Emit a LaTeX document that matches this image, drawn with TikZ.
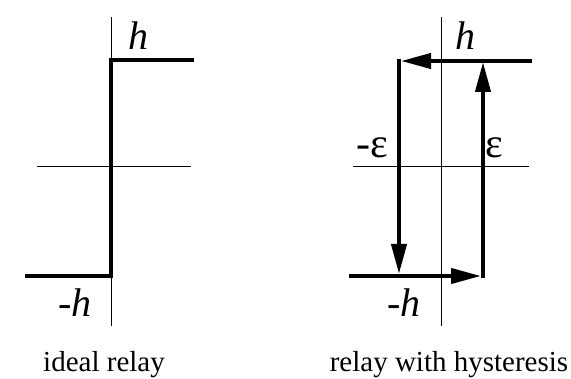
\documentclass[tikz,border=0pt]{standalone}
\usepackage{fontspec}
\setmainfont{Liberation Serif}
\usetikzlibrary{arrows.meta}

\begin{document}
\begin{tikzpicture}[x=1pt,y=-1pt,
  axis/.style={line width=1pt},
  relay/.style={line width=4pt},
  tip/.style={-{Triangle[length=30pt,width=15pt]}},
  lab/.style={anchor=base,inner sep=0pt,font=\fontsize{40}{44}\selectfont},
  eps/.style={anchor=base,inner sep=0pt,font=\fontsize{42}{46}\selectfont},
  caption/.style={anchor=base,inner sep=0pt,font=\fontsize{29}{34}\selectfont}]
\useasboundingbox (0,0) rectangle (571,379);
% ideal relay
\coordinate (v1) at (111,17); \coordinate (v2) at (111,326);
\coordinate (u1) at (37,167); \coordinate (u2) at (191,167);
\draw[axis] (v1) -- (v2);
\draw[axis] (u1) -- (u2);
\coordinate (lo) at (25,276); \coordinate (sw) at (111,276);
\coordinate (nw) at (111,60); \coordinate (hi) at (194,60);
\draw[relay] (lo) -- (sw) -- (nw) -- (hi);
\node[lab] (h1) at (138,50) {\itshape h};
\node[lab] (mh1) at (75,317) {-\textit{h}};
\node[caption] (cap1) at (104,372) {ideal relay};
% relay with hysteresis
\coordinate (v3) at (441,17); \coordinate (v4) at (441,326);
\coordinate (u3) at (353,167); \coordinate (u4) at (529,167);
\draw[axis] (v3) -- (v4);
\draw[axis] (u3) -- (u4);
\coordinate (ne) at (532,61); \coordinate (tl) at (401,61);
\coordinate (dl) at (399,59); \coordinate (bl) at (399,274);
\coordinate (lo2) at (349,276); \coordinate (br) at (481,276);
\coordinate (ur) at (483,278); \coordinate (tr) at (483,62);
\draw[relay,tip] (ne) -- (tl);
\draw[relay,tip] (dl) -- (bl);
\draw[relay,tip] (lo2) -- (br);
\draw[relay,tip] (ur) -- (tr);
\node[lab] (h2) at (465,50) {\itshape h};
\node[lab] (mh2) at (404,317) {-\textit{h}};
\node[eps] (me) at (372,158) {-ε};
\node[eps] (pe) at (494,158) {ε};
\node[caption] (cap2) at (449,372) {relay with hysteresis};
\end{tikzpicture}
\end{document}
